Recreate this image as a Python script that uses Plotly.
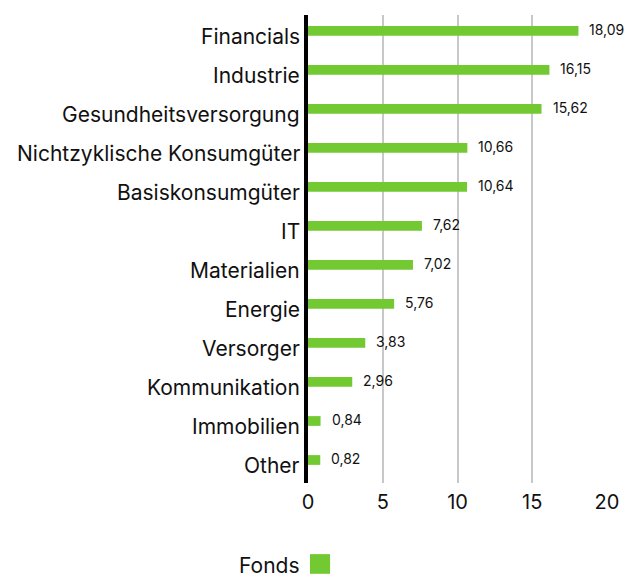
import plotly.graph_objects as go

categories = ["Financials", "Industrie", "Gesundheitsversorgung", "Nichtzyklische Konsumgüter",
              "Basiskonsumgüter", "IT", "Materialien", "Energie", "Versorger",
              "Kommunikation", "Immobilien", "Other"]
values = [18.09, 16.15, 15.62, 10.66, 10.64, 7.62, 7.02, 5.76, 3.83, 2.96, 0.84, 0.82]
value_labels = ["18,09", "16,15", "15,62", "10,66", "10,64", "7,62", "7,02", "5,76",
                "3,83", "2,96", "0,84", "0,82"]
series_name = "Fonds"
x_ticks = [0, 5, 10, 15, 20]

GREEN = "#73c932"
FONT = "Inter"

fig = go.Figure()
fig.add_trace(go.Bar(
    y=categories, x=values, orientation="h", name=series_name,
    marker=dict(color=GREEN, line=dict(width=0)), width=0.25, offset=-0.215,
    showlegend=False, hoverinfo="skip",
))

annotations = []
for c in categories:
    annotations.append(dict(x=0, xref="paper", y=c, yref="y", text=c, showarrow=False,
                            xanchor="right", yanchor="middle", xshift=-6, yshift=-1.5,
                            font=dict(family=FONT, size=21, color="#111111")))
for c, v, t in zip(categories, values, value_labels):
    annotations.append(dict(x=v, xref="x", y=c, yref="y", text=t, showarrow=False,
                            xanchor="left", yanchor="middle", xshift=9, yshift=5.5,
                            font=dict(family=FONT, size=14, color="#111111")))
annotations.append(dict(x=-0.02, xref="paper", y=-0.176, yref="paper", text=series_name,
                        showarrow=False, xanchor="right", yanchor="middle",
                        font=dict(family=FONT, size=21, color="#111111")))

fig.update_layout(
    width=624, height=574,
    margin=dict(l=308, r=17, t=15, b=91, autoexpand=False),
    plot_bgcolor="white", paper_bgcolor="white",
    annotations=annotations,
    shapes=[dict(type="rect", xref="paper", yref="paper", x0=0.0067, x1=0.0738,
                 y0=-0.194, y1=-0.152, fillcolor=GREEN, line=dict(width=0))],
    xaxis=dict(range=[0, 20], tickvals=x_ticks, ticktext=[str(t) for t in x_ticks],
               showgrid=True, gridcolor="#c8c8c8", gridwidth=2, zeroline=False,
               showline=False, ticks="", tickfont=dict(family=FONT, size=20, color="#111111"),
               ticklabelstandoff=5, automargin=False),
    yaxis=dict(autorange="reversed", showticklabels=False, showgrid=False, zeroline=False,
               showline=True, linecolor="black", linewidth=4, ticks="", automargin=False),
)

fig.write_html("out.html", config={"displayModeBar": False},
               post_script="document.body.style.margin='0';document.body.style.overflow='hidden';")
